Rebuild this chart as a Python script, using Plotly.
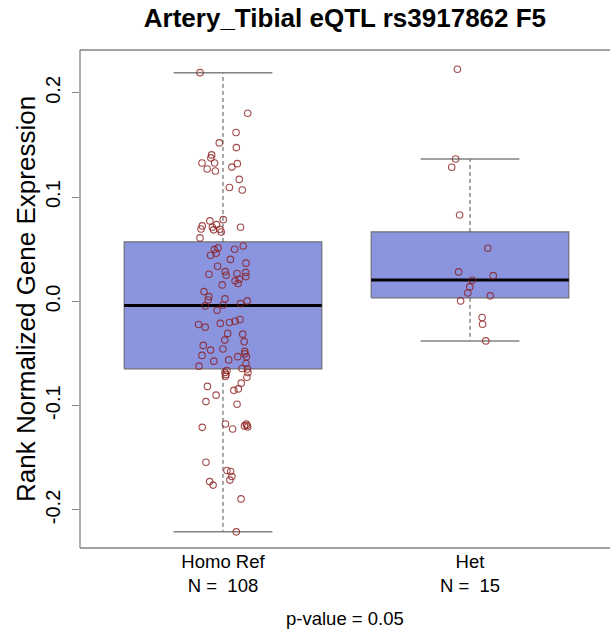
import plotly.graph_objects as go

# ---------------- data ----------------
groups = ["Homo Ref", "Het"]
group_n = [108, 15]
tick_vals = [-0.2, -0.1, 0.0, 0.1, 0.2]
tick_text = ["-0.2", "-0.1", "0.0", "0.1", "0.2"]

# box statistics per group
q1 = [-0.0647, 0.0034]
median = [-0.0040, 0.0206]
q3 = [0.0570, 0.0666]
whisker_low = [-0.2210, -0.0379]
whisker_high = [0.2194, 0.1366]

homo_ref_expr = [
    0.2194, 0.1804, 0.1620, 0.1520, 0.1475, 0.1405, 0.1376, 0.1328, 0.1328, 0.1321,
    0.1288, 0.1270, 0.1251, 0.1170, 0.1093, 0.1069, 0.0784, 0.0772, 0.0724, 0.0695,
    0.0711, 0.0736, 0.0686, 0.0692, 0.0666, 0.0711, 0.0609, 0.0532, 0.0500, 0.0513,
    0.0497, 0.0443, 0.0462, 0.0403, 0.0367, 0.0337, 0.0286, 0.0251, 0.0261, 0.0267,
    0.0278, 0.0238, 0.0213, 0.0197, 0.0171, 0.0158, 0.0094, 0.0046, 0.0014, 0.0024,
    0.0005, -0.0021, -0.0034, -0.0043, -0.0086, -0.0173, -0.0190, -0.0203, -0.0211, -0.0221,
    -0.0247, -0.0307, -0.0314, -0.0371, -0.0386, -0.0422, -0.0457, -0.0467, -0.0479, -0.0503,
    -0.0518, -0.0530, -0.0532, -0.0573, -0.0561, -0.0596, -0.0621, -0.0644, -0.0649, -0.0662,
    -0.0681, -0.0683, -0.0719, -0.0727, -0.0784, -0.0815, -0.0853, -0.0839, -0.0899, -0.0961,
    -0.0986, -0.1176, -0.1176, -0.1189, -0.1205, -0.1208, -0.1224, -0.1542, -0.1622, -0.1632,
    -0.1680, -0.1714, -0.1728, -0.1762, -0.1894, -0.2210, -0.0700, -0.1194,
]
homo_ref_jitter = [
    -0.093, 0.100, 0.053, -0.015, 0.054, -0.046, -0.049, -0.085, -0.034, 0.058,
    0.036, -0.064, -0.031, 0.066, 0.026, 0.078, 0.001, -0.053, -0.084, -0.089,
    -0.043, -0.026, -0.038, -0.013, -0.007, 0.071, -0.093, 0.082, 0.047, -0.020,
    -0.035, -0.050, -0.028, 0.030, 0.093, -0.022, 0.009, 0.013, -0.057, 0.057,
    0.092, 0.093, 0.066, 0.049, 0.061, -0.003, -0.077, -0.057, -0.060, 0.008,
    0.098, 0.071, 0.000, -0.072, -0.024, 0.069, 0.049, 0.026, -0.011, -0.099,
    -0.072, 0.019, 0.080, 0.007, 0.086, -0.080, 0.000, -0.050, 0.088, 0.089,
    -0.085, 0.060, 0.095, -0.037, 0.023, 0.093, -0.097, 0.077, 0.099, 0.016,
    0.008, 0.101, 0.010, 0.097, 0.074, -0.063, 0.044, 0.062, -0.028, -0.069,
    0.057, 0.010, 0.094, 0.097, 0.100, -0.084, 0.039, -0.069, 0.016, 0.031,
    0.036, 0.028, -0.054, -0.040, 0.073, 0.054, 0.012, 0.087,
]
het_expr = [
    0.2226, 0.1366, 0.1287, 0.0829, 0.0510, 0.0283, 0.0247, 0.0203, 0.0139, 0.0081,
    0.0053, 0.0005, -0.0155, -0.0219, -0.0379,
]
het_jitter = [
    -0.051, -0.058, -0.074, -0.042, 0.072, -0.046, 0.094, 0.009, -0.001, -0.009,
    0.082, -0.038, 0.049, 0.051, 0.064,
]
p_value_text = "p-value = 0.05"
title_text = "Artery_Tibial eQTL rs3917862 F5"
y_label = "Rank Normalized Gene Expression"

# ---------------- styling ----------------
BOX_HALF = 0.4
STAPLE_HALF = 0.2
BOX_FILL = "rgb(139,148,222)"
FRAME_GRAY = "rgb(130,130,130)"
POINT_COLOR = "rgba(140,30,30,0.8)"
FONT = "Liberation Sans, Arial, Helvetica, sans-serif"

fig = go.Figure()
positions = [1, 2]

for i, pos in enumerate(positions):
    fig.add_trace(go.Scatter(
        x=[pos - BOX_HALF, pos + BOX_HALF, pos + BOX_HALF, pos - BOX_HALF, pos - BOX_HALF],
        y=[q1[i], q1[i], q3[i], q3[i], q1[i]],
        mode="lines", fill="toself", fillcolor=BOX_FILL,
        line=dict(color="rgb(110,110,120)", width=1.2),
        hoverinfo="skip", showlegend=False))
    fig.add_trace(go.Scatter(
        x=[pos, pos, None, pos, pos],
        y=[q3[i], whisker_high[i], None, q1[i], whisker_low[i]],
        mode="lines", line=dict(color="rgb(80,80,80)", width=1, dash="4px,3px"),
        hoverinfo="skip", showlegend=False))
    fig.add_trace(go.Scatter(
        x=[pos - STAPLE_HALF, pos + STAPLE_HALF, None, pos - STAPLE_HALF, pos + STAPLE_HALF],
        y=[whisker_high[i], whisker_high[i], None, whisker_low[i], whisker_low[i]],
        mode="lines", line=dict(color=FRAME_GRAY, width=1.5),
        hoverinfo="skip", showlegend=False))
    fig.add_trace(go.Scatter(
        x=[pos - BOX_HALF, pos + BOX_HALF], y=[median[i], median[i]],
        mode="lines", line=dict(color="black", width=3),
        hoverinfo="skip", showlegend=False))

fig.add_trace(go.Scatter(
    x=[positions[0] + j for j in homo_ref_jitter], y=homo_ref_expr,
    mode="markers", marker=dict(symbol="circle-open", size=6.5, color=POINT_COLOR, line=dict(width=1.1)),
    showlegend=False, name=groups[0]))
fig.add_trace(go.Scatter(
    x=[positions[1] + j for j in het_jitter], y=het_expr,
    mode="markers", marker=dict(symbol="circle-open", size=6.5, color=POINT_COLOR, line=dict(width=1.1)),
    showlegend=False, name=groups[1]))

cat_labels = [f"{g}<br>N = \u00a0{n}" for g, n in zip(groups, group_n)]

frame_line = dict(color=FRAME_GRAY, width=1.3)
fig.update_layout(
    width=610, height=633,
    margin=dict(l=80, r=0, t=50, b=85),
    paper_bgcolor="white", plot_bgcolor="white",
    font=dict(family=FONT, color="black"),
    title=dict(text=f"<b>{title_text}</b>", x=0.5655, xanchor="center", y=0.972, yanchor="middle",
               font=dict(size=26, family=FONT, color="black")),
    xaxis=dict(range=[0.4211, 2.5668], showgrid=False, zeroline=False, showline=False,
               tickvals=positions, ticktext=cat_labels, ticks="",
               tickfont=dict(size=18.5, family=FONT, color="black")),
    yaxis=dict(range=[-0.2365, 0.2411], showgrid=False, zeroline=False, showline=False,
               tickvals=tick_vals, ticktext=tick_text, ticks="outside", ticklen=7,
               tickcolor=FRAME_GRAY, tickangle=-90, ticklabelstandoff=4,
               tickfont=dict(size=20, family=FONT, color="black")),
    shapes=[
        dict(type="line", xref="paper", yref="paper", x0=0, x1=1, y0=1, y1=1, line=frame_line),
        dict(type="line", xref="paper", yref="paper", x0=0, x1=1, y0=0, y1=0, line=frame_line),
        dict(type="line", xref="paper", yref="paper", x0=0, x1=0, y0=0, y1=1, line=frame_line),
    ],
    annotations=[
        dict(text=y_label, xref="paper", yref="paper", x=-0.102, y=0.5,
             xanchor="center", yanchor="middle", textangle=-90, showarrow=False,
             font=dict(size=26, family=FONT, color="black")),
        dict(text=p_value_text, xref="paper", yref="paper", x=0.5, y=-0.142,
             xanchor="center", yanchor="middle", showarrow=False,
             font=dict(size=18.5, family=FONT, color="black")),
    ],
)

fig.write_html("out.html", config={"displayModeBar": False})
